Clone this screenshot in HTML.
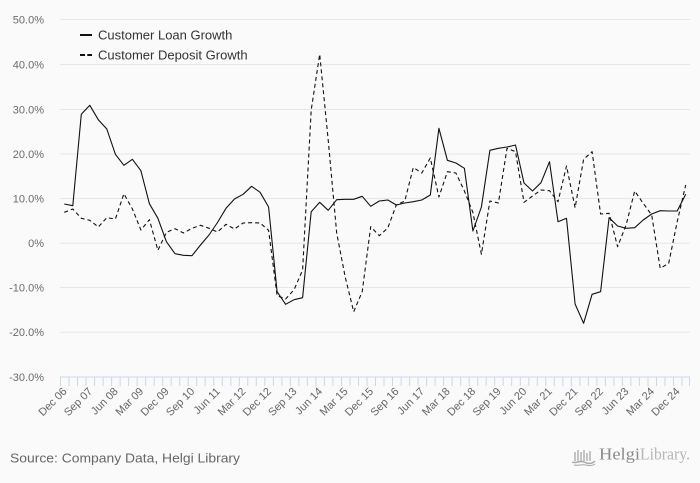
<!DOCTYPE html>
<html><head><meta charset="utf-8"><style>
html,body{margin:0;padding:0;background:#fafafa;}
svg{display:block;font-family:"Liberation Sans",sans-serif;}
</style></head><body>
<svg width="700" height="483" viewBox="0 0 700 483" xmlns="http://www.w3.org/2000/svg">
<rect x="0" y="0" width="700" height="483" fill="#fafafa"/>
<g stroke="#e6e6e6" stroke-width="1">
<line x1="60" y1="19.5" x2="690" y2="19.5"/>
<line x1="60" y1="64.5" x2="690" y2="64.5"/>
<line x1="60" y1="109.5" x2="690" y2="109.5"/>
<line x1="60" y1="154" x2="690" y2="154"/>
<line x1="60" y1="198.5" x2="690" y2="198.5"/>
<line x1="60" y1="243.2" x2="690" y2="243.2"/>
<line x1="60" y1="287.5" x2="690" y2="287.5"/>
<line x1="60" y1="332.2" x2="690" y2="332.2"/>
</g>
<g fill="#6b6b6b" font-size="11" text-anchor="end">
<text x="44" y="23.5">50.0%</text>
<text x="44" y="68.5">40.0%</text>
<text x="44" y="113.5">30.0%</text>
<text x="44" y="158">20.0%</text>
<text x="44" y="202.5">10.0%</text>
<text x="44" y="247.2">0%</text>
<text x="44" y="291.5">-10.0%</text>
<text x="44" y="336.2">-20.0%</text>
<text x="44" y="381">-30.0%</text>
</g>
<line x1="60" y1="377" x2="690" y2="377" stroke="#ccd6eb" stroke-width="1"/>
<g stroke="#ccd6eb" stroke-width="1">
<path d="M60.5 377v9M69 377v9M77.5 377v9M86 377v9M94.6 377v9M103.1 377v9M111.6 377v9M120.1 377v9M128.6 377v9M137.1 377v9M145.6 377v9M154.2 377v9M162.7 377v9M171.2 377v9M179.7 377v9M188.2 377v9M196.7 377v9M205.2 377v9M213.8 377v9M222.3 377v9M230.8 377v9M239.3 377v9M247.8 377v9M256.3 377v9M264.8 377v9M273.4 377v9M281.9 377v9M290.4 377v9M298.9 377v9M307.4 377v9M315.9 377v9M324.4 377v9M332.9 377v9M341.5 377v9M350 377v9M358.5 377v9M367 377v9M375.5 377v9M384 377v9M392.5 377v9M401.1 377v9M409.6 377v9M418.1 377v9M426.6 377v9M435.1 377v9M443.6 377v9M452.1 377v9M460.7 377v9M469.2 377v9M477.7 377v9M486.2 377v9M494.7 377v9M503.2 377v9M511.7 377v9M520.3 377v9M528.8 377v9M537.3 377v9M545.8 377v9M554.3 377v9M562.8 377v9M571.3 377v9M579.9 377v9M588.4 377v9M596.9 377v9M605.4 377v9M613.9 377v9M622.4 377v9M630.9 377v9M639.4 377v9M648 377v9M656.5 377v9M665 377v9M673.5 377v9M682 377v9M689.5 377v9"/>
</g>
<g fill="#666" font-size="11" text-anchor="end">
<text transform="translate(67.5,392) rotate(-45)">Dec 06</text>
<text transform="translate(93,392) rotate(-45)">Sep 07</text>
<text transform="translate(118.6,392) rotate(-45)">Jun 08</text>
<text transform="translate(144.1,392) rotate(-45)">Mar 09</text>
<text transform="translate(169.6,392) rotate(-45)">Dec 09</text>
<text transform="translate(195.2,392) rotate(-45)">Sep 10</text>
<text transform="translate(220.7,392) rotate(-45)">Jun 11</text>
<text transform="translate(246.3,392) rotate(-45)">Mar 12</text>
<text transform="translate(271.8,392) rotate(-45)">Dec 12</text>
<text transform="translate(297.3,392) rotate(-45)">Sep 13</text>
<text transform="translate(322.9,392) rotate(-45)">Jun 14</text>
<text transform="translate(348.4,392) rotate(-45)">Mar 15</text>
<text transform="translate(373.9,392) rotate(-45)">Dec 15</text>
<text transform="translate(399.5,392) rotate(-45)">Sep 16</text>
<text transform="translate(425,392) rotate(-45)">Jun 17</text>
<text transform="translate(450.6,392) rotate(-45)">Mar 18</text>
<text transform="translate(476.1,392) rotate(-45)">Dec 18</text>
<text transform="translate(501.6,392) rotate(-45)">Sep 19</text>
<text transform="translate(527.2,392) rotate(-45)">Jun 20</text>
<text transform="translate(552.7,392) rotate(-45)">Mar 21</text>
<text transform="translate(578.3,392) rotate(-45)">Dec 21</text>
<text transform="translate(603.8,392) rotate(-45)">Sep 22</text>
<text transform="translate(629.3,392) rotate(-45)">Jun 23</text>
<text transform="translate(654.9,392) rotate(-45)">Mar 24</text>
<text transform="translate(680.4,392) rotate(-45)">Dec 24</text>
</g>
<polyline fill="none" stroke="#111" stroke-width="1.1" stroke-linejoin="round" points="64.3,204 72.8,205.7 81.3,114.3 89.8,105.3 98.3,119.7 106.8,129 115.4,154.3 123.9,165.3 132.4,159.3 140.9,170.7 149.4,203.7 157.9,218.3 166.4,241.7 175,253.7 183.5,255.3 192,255.7 200.5,245 209,235 217.5,222.5 226,208.3 234.5,199 243.1,194.3 251.6,186.3 260.1,192.3 268.6,207 277.1,291.7 285.6,304.3 294.1,299.7 302.6,297.7 311.2,211.7 319.7,202.3 328.2,210.3 336.7,199.7 345.2,199.3 353.7,199.3 362.2,196.3 370.7,206.3 379.3,201 387.8,200 396.3,205 404.8,203 413.3,201.7 421.8,200 430.3,195 438.9,128.3 447.4,160.3 455.9,163 464.4,168.3 472.9,231 481.4,207 489.9,150.3 498.4,148.3 507,147 515.5,145 524,183 532.5,191 541,182.7 549.5,161.7 558,221.7 566.5,218.3 575.1,304 583.6,323.3 592.1,294.3 600.6,291.7 609.1,217.7 617.6,226 626.1,228.3 634.7,227.7 643.2,220 651.7,214 660.2,210.7 668.7,211 677.2,211 685.7,194.3"/>
<polyline fill="none" stroke="#111" stroke-width="1.1" stroke-dasharray="4,3" stroke-linejoin="round" points="64.3,212.3 72.8,209 81.3,218.3 89.8,220.3 98.3,227 106.8,217.7 115.4,219 123.9,193.7 132.4,209 140.9,230 149.4,219.7 157.9,250.3 166.4,232.3 175,228.7 183.5,233 192,228.3 200.5,225.3 209,228.3 217.5,232 226,224.3 234.5,229 243.1,223 251.6,222.7 260.1,223 268.6,230.3 277.1,295.7 285.6,299 294.1,289.7 302.6,270 311.2,110 319.7,54.3 328.2,140 336.7,233 345.2,277 353.7,311.7 362.2,291.7 370.7,226.7 379.3,235.7 387.8,228 396.3,205 404.8,201 413.3,167.5 421.8,173 430.3,158 438.9,197 447.4,171.7 455.9,173 464.4,191 472.9,212.5 481.4,254.3 489.9,201 498.4,203 507,148.3 515.5,151.7 524,202.3 532.5,196 541,190 549.5,190.7 558,201.7 566.5,166 575.1,207.7 583.6,159.3 592.1,151.7 600.6,214 609.1,213.3 617.6,246.7 626.1,225 634.7,191 643.2,203.3 651.7,215 660.2,268.3 668.7,263.3 677.2,221.7 685.7,185"/>
<line x1="80" y1="35" x2="92" y2="35" stroke="#111" stroke-width="2"/>
<path d="M80 55h5M87.3 55h4.7" stroke="#111" stroke-width="2"/>
<g fill="#333" font-size="13">
<text x="98" y="39.5">Customer Loan Growth</text>
<text x="98" y="59.5">Customer Deposit Growth</text>
</g>
<text x="10" y="462.5" fill="#666" font-size="13" textLength="230" lengthAdjust="spacingAndGlyphs">Source: Company Data, Helgi Library</text>
<g stroke="#a8a8a8" stroke-width="1.3" fill="none">
<path d="M575 461v-9M578 461v-11M581 461v-9M584 461v-11M587 461v-8M590 461v-10"/>
<path d="M572 462c4 2 8-2 12 0s8 2 11-1" stroke-width="1.5"/>
<path d="M574 465c4 1 8-1 12 0s6 1 9-1" stroke-width="1"/>
</g>
<text x="599" y="459.5" fill="#8a8a8a" font-size="17" font-family="Liberation Serif,serif" textLength="41" lengthAdjust="spacingAndGlyphs">Helgi</text>
<text x="640" y="459.5" fill="#b4b4b4" font-size="17" font-family="Liberation Serif,serif" textLength="50" lengthAdjust="spacingAndGlyphs">Library.</text>
</svg>
</body></html>
